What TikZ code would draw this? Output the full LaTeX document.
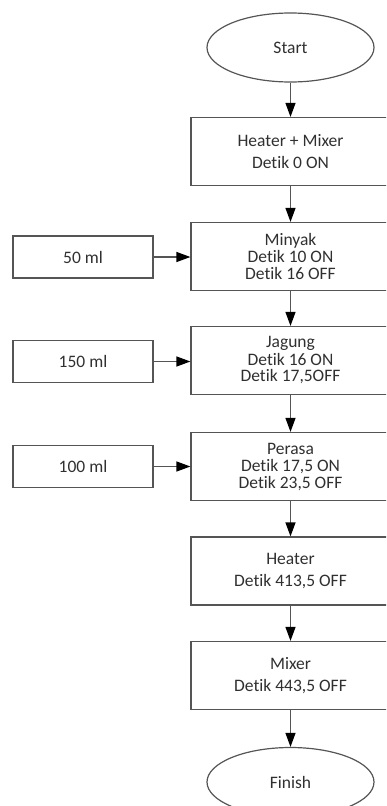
\documentclass[tikz,border=0pt]{standalone}
\usepackage{fontspec}
\setmainfont{Carlito}[Ligatures=NoCommon]
\usetikzlibrary{shapes.geometric,arrows.meta}
\definecolor{linecol}{HTML}{555555}
\definecolor{txtcol}{HTML}{303030}
\tikzset{
  base/.style={draw=linecol, line width=1.2pt, text=txtcol, align=center, inner sep=0pt},
  mainbox/.style={base, rectangle, minimum width=199pt, minimum height=68pt, font=\fontsize{17.5}{17}\selectfont},
  twobox/.style={mainbox, font=\fontsize{17.5}{21.5}\selectfont},
  sidebox/.style={base, rectangle, minimum width=140pt, minimum height=42pt, font=\fontsize{17.5}{17}\selectfont},
  term/.style={base, ellipse, minimum width=167pt, minimum height=69pt, font=\fontsize{17.5}{17}\selectfont},
  conn/.style={draw=linecol, line width=1.2pt, -{Triangle[width=10pt,length=14pt,fill=black,color=black]}}
}
\begin{document}
\begin{tikzpicture}[x=1pt,y=-1pt]
\useasboundingbox (0,0) rectangle (386,806);
\clip (0,0) rectangle (386,806);
\node[term] (start) at (290.5,47.5) {Start};
\node[twobox] (b1) at (290.5,151.5) {Heater + Mixer\\Detik 0 ON};
\node[mainbox] (b2) at (290.5,256.5) {Minyak\\Detik 10 ON\\Detik 16 OFF};
\node[mainbox] (b3) at (290.5,360.5) {Jagung\\Detik 16 ON\\Detik 17,5OFF};
\node[mainbox] (b4) at (290.5,466.5) {Perasa\\Detik 17,5 ON\\Detik 23,5 OFF};
\node[twobox] (b5) at (290.5,571) {Heater\\Detik 413,5 OFF};
\node[twobox] (b6) at (290.5,675.5) {Mixer\\Detik 443,5 OFF};
\node[term] (finish) at (290.5,782) {Finish};
\node[sidebox] (l1) at (83,257) {50 ml};
\node[sidebox] (l2) at (83,361.5) {150 ml};
\node[sidebox] (l3) at (83,466.5) {100 ml};
\draw[conn] (start) -- (b1);
\draw[conn] (b1) -- (b2);
\draw[conn] (b2) -- (b3);
\draw[conn] (b3) -- (b4);
\draw[conn] (b4) -- (b5);
\draw[conn] (b5) -- (b6);
\draw[conn] (b6) -- (finish);
\draw[conn] (l1.east) -- (l1.east -| b2.west);
\draw[conn] (l2.east) -- (l2.east -| b3.west);
\draw[conn] (l3.east) -- (l3.east -| b4.west);
\end{tikzpicture}
\end{document}
